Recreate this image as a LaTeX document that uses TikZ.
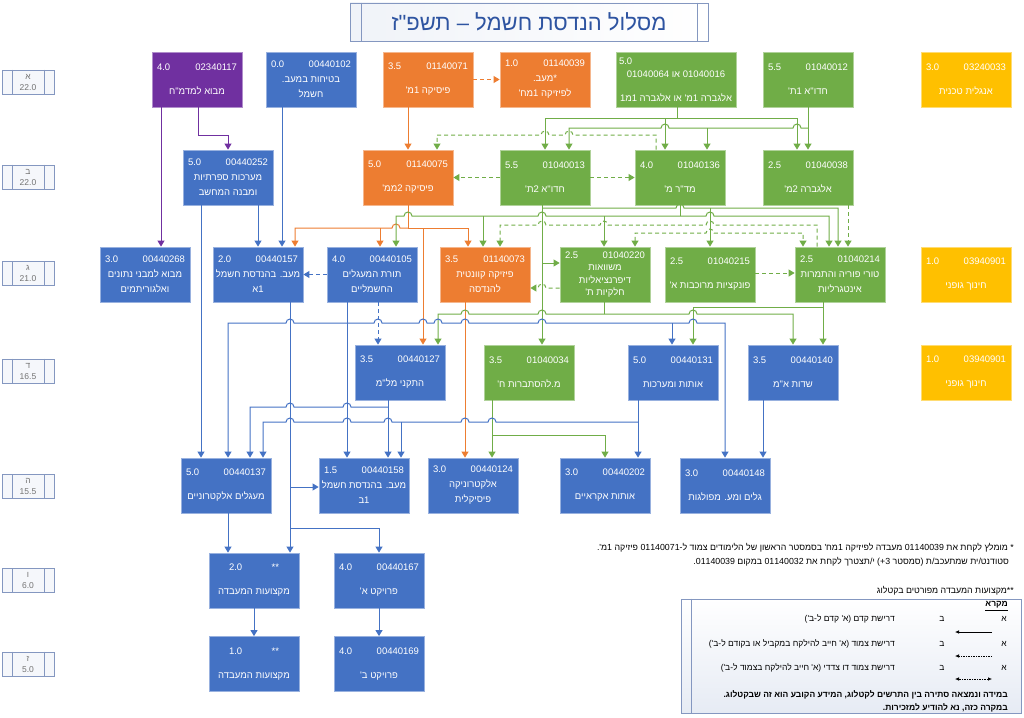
\documentclass[tikz,border=0pt]{standalone}
\usepackage{fontspec}
\setmainfont{Liberation Sans}
\newfontfamily\hebfont[Script=Hebrew]{Liberation Sans}
\usetikzlibrary{arrows.meta}
\TeXXeTstate=1
\definecolor{cblue}{HTML}{4472C4}
\definecolor{corange}{HTML}{ED7D31}
\definecolor{cgreen}{HTML}{70AD47}
\definecolor{cpurple}{HTML}{7030A0}
\definecolor{cyellow}{HTML}{FFC000}
\definecolor{ctitle}{HTML}{2E54A1}
\definecolor{cframe}{HTML}{8497C0}
\definecolor{cpale}{HTML}{E6EBF4}
\newcommand\heb[1]{{\hebfont\beginR #1\endR}}
\newcommand\ctop[2]{\makebox[80pt]{#1\hfill#2}}
\def\crsfont{\fontsize{9.5}{15}\selectfont}
\def\lgfont{\fontsize{8.5}{10}\selectfont}
% line jumps: hop over a vertical line at x=#1, y=#2
\def\hr#1#2{-- (#1-4,#2) arc[start angle=180,end angle=360,radius=4]}
\def\hl#1#2{-- (#1+4,#2) arc[start angle=0,end angle=-180,radius=4]}
\tikzset{
  crs/.style={rectangle, fill=#1, draw=#1!55!white, line width=0.8pt,
    minimum width=90pt, minimum height=55pt, inner sep=0pt,
    align=center, text=white, font=\crsfont},
  sem/.style={rectangle, draw=cframe, fill=cpale!40!white, line width=0.8pt,
    minimum width=52pt, minimum height=24pt, inner sep=0pt, align=center,
    text=black!55, font=\fontsize{8.5}{11}\selectfont},
  semln/.style={draw=cframe, line width=0.8pt},
  tip/.style={-{Triangle[length=6pt,width=7pt]}},
  ln/.style={line width=1pt, tip},
  bl/.style={ln, draw=cblue},
  ol/.style={ln, draw=corange},
  gl/.style={ln, draw=cgreen},
  pl/.style={ln, draw=cpurple},
  dsh/.style={dash pattern=on 4pt off 3pt},
  both/.style={{Triangle[length=6pt,width=7pt]}-{Triangle[length=6pt,width=7pt]}},
  lgt/.style={inner sep=0pt, font=\lgfont},
  lgarr/.style={line width=0.6pt, -{Latex[length=4pt,width=3.5pt]}},
}
\begin{document}
\begin{tikzpicture}[x=1pt,y=-1pt]
\useasboundingbox (0,0) rectangle (1024,717);

% title
\node[rectangle, draw=cframe, line width=0.8pt, left color=cpale!60!white, right color=white,
  minimum width=358pt, minimum height=38pt, text=ctitle,
  font=\fontsize{22}{26}\selectfont] (ttl) at (529,22) {\heb{מסלול הנדסת חשמל – תשפ"ז}};
\draw[semln] ([xshift=12pt]ttl.north west) -- ([xshift=12pt]ttl.south west);
\draw[semln] ([xshift=-11pt]ttl.north east) -- ([xshift=-11pt]ttl.south east);

% semesters
\foreach \sn/\sy/\sh/\sc in {1/82/א/22.0, 2/177/ב/22.0, 3/273.5/ג/21.0, 4/371/ד/16.5,
    5/486.5/ה/15.5, 6/580.5/ו/6.0, 7/664/ז/5.0}{
  \node[sem] (s\sn) at (28,\sy) {\heb{\sh}\\\sc};
  \draw[semln] ([xshift=11pt]s\sn.north west) -- ([xshift=11pt]s\sn.south west);
  \draw[semln] ([xshift=-10pt]s\sn.north east) -- ([xshift=-10pt]s\sn.south east);
}

% semester a
\node[crs=cpurple] (c02340117) at (197,79.5) {\ctop{4.0}{02340117}\\[9pt]\heb{מבוא למדמ"ח}};
\node[crs=cblue] (c00440102) at (311,79.5) {\ctop{0.0}{00440102}\\\heb{בטיחות במעב.}\\\heb{חשמל}};
\node[crs=corange] (c01140071) at (428,79.5) {\ctop{3.5}{01140071}\\[9pt]\heb{פיסיקה 1מ'}};
\node[crs=corange] (c01140039) at (545,79.5) {\ctop{1.0}{01140039}\\\heb{*מעב.}\\\heb{לפיזיקה 1מח'}};
\node[crs=cgreen, minimum width=120pt] (c01040016) at (676,79.5)
  {\makebox[114pt][l]{5.0}\\[-2pt]\heb{01040016 או 01040064}\\[9pt]\heb{אלגברה 1מ' או אלגברה 1מ1}};
\node[crs=cgreen] (c01040012) at (808,79.5) {\ctop{5.5}{01040012}\\[9pt]\heb{חדו"א 1ת'}};
\node[crs=cyellow] (c03240033) at (966,79.5) {\ctop{3.0}{03240033}\\[9pt]\heb{אנגלית טכנית}};

% semester b
\node[crs=cblue] (c00440252) at (228,177.5) {\ctop{5.0}{00440252}\\\heb{מערכות ספרתיות}\\\heb{ומבנה המחשב}};
\node[crs=corange] (c01140075) at (408,177.5) {\ctop{5.0}{01140075}\\[9pt]\heb{פיסיקה 2ממ'}};
\node[crs=cgreen] (c01040013) at (545,177.5) {\ctop{5.5}{01040013}\\[9pt]\heb{חדו"א 2ת'}};
\node[crs=cgreen] (c01040136) at (680,177.5) {\ctop{4.0}{01040136}\\[9pt]\heb{מד"ר מ'}};
\node[crs=cgreen] (c01040038) at (808,177.5) {\ctop{2.5}{01040038}\\[9pt]\heb{אלגברה 2מ'}};

% semester c
\node[crs=cblue] (c00440268) at (145,274.5) {\ctop{3.0}{00440268}\\\heb{מבוא למבני נתונים}\\\heb{ואלגוריתמים}};
\node[crs=cblue] (c00440157) at (258,274.5) {\ctop{2.0}{00440157}\\\heb{מעב. בהנדסת חשמל}\\\heb{1א}};
\node[crs=cblue] (c00440105) at (372,274.5) {\ctop{4.0}{00440105}\\\heb{תורת המעגלים}\\\heb{החשמליים}};
\node[crs=corange] (c01140073) at (485,274.5) {\ctop{3.5}{01140073}\\\heb{פיזיקה קוונטית}\\\heb{להנדסה}};
\node[crs=cgreen, font=\fontsize{9.5}{12.5}\selectfont] (c01040220) at (605,274.5)
  {\ctop{2.5}{01040220}\\\heb{משוואות}\\\heb{דיפרנציאליות}\\\heb{חלקיות ת'}};
\node[crs=cgreen] (c01040215) at (710,274.5) {\ctop{2.5}{01040215}\\[9pt]\heb{פונקציות מרוכבות א'}};
\node[crs=cgreen] (c01040214) at (840,274.5) {\ctop{2.5}{01040214}\\\heb{טורי פוריה והתמרות}\\\heb{אינטגרליות}};
\node[crs=cyellow] (c03940901a) at (966,274.5) {\ctop{1.0}{03940901}\\[9pt]\heb{חינוך גופני}};

% semester d
\node[crs=cblue] (c00440127) at (400,372.5) {\ctop{3.5}{00440127}\\[9pt]\heb{התקני מל"מ}};
\node[crs=cgreen] (c01040034) at (529,372.5) {\ctop{3.5}{01040034}\\[9pt]\heb{מ.להסתברות ח'}};
\node[crs=cblue] (c00440131) at (673,372.5) {\ctop{5.0}{00440131}\\[9pt]\heb{אותות ומערכות}};
\node[crs=cblue] (c00440140) at (793,372.5) {\ctop{3.5}{00440140}\\[9pt]\heb{שדות א"מ}};
\node[crs=cyellow] (c03940901b) at (966,372.5) {\ctop{1.0}{03940901}\\[9pt]\heb{חינוך גופני}};

% semester e
\node[crs=cblue] (c00440137) at (226,485.5) {\ctop{5.0}{00440137}\\[9pt]\heb{מעגלים אלקטרוניים}};
\node[crs=cblue] (c00440158) at (364,485.5) {\ctop{1.5}{00440158}\\\heb{מעב. בהנדסת חשמל}\\\heb{1ב}};
\node[crs=cblue] (c00440124) at (473,485.5) {\ctop{3.0}{00440124}\\\heb{אלקטרוניקה}\\\heb{פיסיקלית}};
\node[crs=cblue] (c00440202) at (605,485.5) {\ctop{3.0}{00440202}\\[9pt]\heb{אותות אקראיים}};
\node[crs=cblue] (c00440148) at (725,485.5) {\ctop{3.0}{00440148}\\[9pt]\heb{גלים ומע. מפולגות}};

% semesters f, g
\node[crs=cblue] (lab6) at (254,580.5) {\makebox[50pt]{2.0\hfill**}\\[9pt]\heb{מקצועות המעבדה}};
\node[crs=cblue] (c00440167) at (379,580.5) {\ctop{4.0}{00440167}\\[9pt]\heb{פרויקט א'}};
\node[crs=cblue] (lab7) at (254,664) {\makebox[50pt]{1.0\hfill**}\\[9pt]\heb{מקצועות המעבדה}};
\node[crs=cblue] (c00440169) at (379,664) {\ctop{4.0}{00440169}\\[9pt]\heb{פרויקט ב'}};

% purple
\draw[pl] (c02340117.south -| 161,0) -- (c00440268.north -| 161,0);
\draw[pl] (c02340117.south -| 198,0) |- (228,135) -- (c00440252.north);

% blue, upper part
\draw[bl] (c00440102.south -| 282,0) -- (c00440157.north -| 282,0);
\draw[bl] (c00440252.south -| c00440157.north) -- (c00440157.north);
\draw[bl] (c00440252.south -| 201,0) -- (c00440137.north -| 201,0);
\draw[bl,dsh] (c00440105.west) -- (c00440157.east);

% orange
\draw[ol] (c01140071.south -| c01140075.north) -- (c01140075.north);
\draw[ol,dsh] (c01140071.east) -- (c01140039.west);
\coordinate (oj) at (408,228);
\draw[ol,-] (c01140075.south) -- (oj);
\draw[ol] (oj) \hl{396}{228} -- (295,228) -- (c00440157.north -| 295,0);
\draw[ol] (380,228) -- (c00440105.north -| 380,0);
\draw[ol] (oj) -- (468,228) -- (c01140073.north -| 468,0);
\draw[ol] (423,228) -- (c00440127.north -| 423,0);
\draw[ol] (c01140073.south -| 465,0) -- (c00440124.north -| 465,0);

% green, semester a to b
\coordinate (ga) at (677,118);
\draw[gl,-] (c01040016.south -| ga) -- (ga);
\draw[gl] (ga) -| (c01040013.north);
\draw[gl] (ga) -| (c01040038.north -| 797,0);
\draw[gl] (665,118) -- (c01040136.north -| 665,0);
\coordinate (gb) at (808,128);
\draw[gl] (c01040012.south) -- (c01040038.north);
\draw[gl] (gb) \hl{797}{128} \hl{665}{128} -- (569,128) -- (c01040013.north -| 569,0);
\draw[gl] (707,128) -- (c01040136.north -| 707,0);
\draw[gl,dsh] (c01040136.north -| 656,0) -- (656,135) \hl{569}{135} \hl{545}{135} -- (437,135) -- (c01140075.north -| 437,0);
\draw[gl,dsh] (c01040013.west) -- (c01140075.east);
\draw[gl,dsh] (c01040013.east) -- (c01040136.west);

% green, semester b to c
\draw[gl] (c01040013.south -| 542,0) -- (c01040034.north -| 542,0);
\draw[gl] (542,263) -- (c01040220.west |- 0,263);
\draw[gl] (542,208) \hr{680}{208} -- (838,208) -- (c01040214.north -| 838,0);
\draw[gl] (710,208) -- (c01040215.north);
\coordinate (gc) at (680,216);
\draw[gl,-] (c01040136.south) -- (gc);
\draw[gl] (gc) \hl{542}{216} \hl{408}{216} -- (396,216) -- (c00440105.north -| 396,0);
\draw[gl] (483,216) -- (c01140073.north -| 483,0);
\draw[gl] (604,216) -- (c01040220.north -| 604,0);
\draw[gl] (gc) \hr{710}{216} -- (829,216) -- (c01040214.north -| 829,0);
\draw[gl,dsh] (c01040214.north -| 817,0) -- (817,225) \hl{710}{225} \hl{604}{225} \hl{542}{225} -- (500,225) -- (c01140073.north -| 500,0);
\draw[gl,dsh,both] (c01040220.north -| 635,0) -- (635,233) \hr{710}{233} -- (803,233) -- (c01040214.north -| 803,0);
\draw[gl,dsh] (c01040038.south -| 848,0) -- (c01040214.north -| 848,0);
\draw[gl,dsh] (c01040220.west |- 0,288) \hl{542}{288} -- (c01140073.east |- 0,288);
\draw[gl,dsh] (c01040215.east |- 0,273) -- (c01040214.west |- 0,273);

% green, semester c to e
\draw[gl,-] (c01040220.south -| 604,0) -- (604,314);
\draw[gl] (604,314) \hl{542}{314} \hl{465}{314} -- (438,314) -- (c00440127.north -| 438,0);
\draw[gl] (604,314) \hr{693}{314} -- (793,314) -- (c00440140.north -| 793,0);
\draw[gl] (c01040214.south -| 823,0) -- (c00440140.north -| 823,0);
\draw[gl] (823,307) -| (c00440131.north -| 693,0);
\draw[gl] (c01040034.south -| 492,0) -- (c00440124.north -| 492,0);
\draw[gl] (492,435) -| (c00440202.north);

% blue, lower part
\draw[bl] (c00440105.south -| 347,0) -- (c00440158.north -| 347,0);
\draw[bl] (347,323) \hl{290}{323} -- (228,323) -- (c00440137.north -| 228,0);
\draw[bl] (347,323) \hr{378}{323} \hr{423}{323} \hr{438}{323} \hr{465}{323} \hr{542}{323} \hr{693}{323} -- (725,323) -- (c00440148.north);
\draw[bl] (672,323) -- (c00440131.north -| 672,0);
\draw[bl,dsh] (c00440105.south -| 378,0) -- (c00440127.north -| 378,0);
\draw[bl] (c00440157.south -| 290,0) -- (lab6.north -| 290,0);
\draw[bl] (290,487) -- (c00440158.west |- 0,487);
\draw[bl] (290,528) -| (c00440167.north);
\draw[bl] (c00440127.south -| 388,0) -- (c00440158.north -| 388,0);
\draw[bl] (388,407) \hl{347}{407} \hl{290}{407} -- (250,407) -- (c00440137.north -| 250,0);
\draw[bl] (c00440131.south -| 638,0) -- (c00440202.north -| 638,0);
\draw[bl] (638,422) \hl{492}{422} \hl{465}{422} \hl{388}{422} \hl{347}{422} \hl{290}{422} -- (263,422) -- (c00440137.north -| 263,0);
\draw[bl] (401,422) -- (c00440158.north -| 401,0);
\draw[bl] (c00440140.south -| 763,0) -- (c00440148.north -| 763,0);
\draw[bl] (c00440137.south -| 228,0) -- (lab6.north -| 228,0);
\draw[bl] (lab6) -- (lab7);
\draw[bl] (c00440167) -- (c00440169);

% notes
\node[lgt, anchor=east, font=\fontsize{8.8}{10}\selectfont] (fn1) at (1014,548)
  {\heb{* מומלץ לקחת את 01140039 מעבדה לפיזיקה 1מח' בסמסטר הראשון של הלימודים צמוד ל-01140071 פיזיקה 1מ'.}};
\node[lgt, anchor=east, font=\fontsize{8.8}{10}\selectfont] (fn2) at (1009,562)
  {\heb{סטודנט/ית שמתעכב/ת (סמסטר 3+) י/תצטרך לקחת את 01140032 במקום 01140039.}};
\node[lgt, anchor=east, font=\fontsize{8.8}{10}\selectfont] (fn3) at (1014,591)
  {\heb{**מקצועות המעבדה מפורטים בקטלוג}};

% legend
\node[rectangle, draw=cframe, line width=0.8pt, top color=white, bottom color=cpale,
  minimum width=340pt, minimum height=114pt] (lgd) at (851,656) {};
\draw[semln] ([xshift=11pt]lgd.north west) -- ([xshift=11pt]lgd.south west);
\node[lgt, anchor=east, font=\lgfont\bfseries] (lgh) at (1008,606) {\underline{\heb{מקרא}}};
\node[lgt] (la1) at (1004,619) {\heb{א}};
\node[lgt] (lb1) at (942,619) {\heb{ב}};
\node[lgt, anchor=east] (lt1) at (895,619) {\heb{דרישת קדם (א' קדם ל-ב')}};
\node[lgt] (la2) at (1004,644) {\heb{א}};
\node[lgt] (lb2) at (942,644) {\heb{ב}};
\node[lgt, anchor=east] (lt2) at (895,644) {\heb{דרישת צמוד (א' חייב להילקח במקביל או בקודם ל-ב')}};
\node[lgt] (la3) at (1004,668) {\heb{א}};
\node[lgt] (lb3) at (942,668) {\heb{ב}};
\node[lgt, anchor=east] (lt3) at (895,668) {\heb{דרישת צמוד דו צדדי (א' חייב להילקח בצמוד ל-ב')}};
\coordinate (lr1) at (992,632); \coordinate (ll1) at (955,632);
\coordinate (lr2) at (992,656); \coordinate (ll2) at (955,656);
\coordinate (lr3) at (992,679); \coordinate (ll3) at (955,679);
\draw[lgarr] (lr1) -- (ll1);
\draw[lgarr, dash pattern=on 1.5pt off 1pt] (lr2) -- (ll2);
\draw[lgarr, {Latex[length=4pt,width=3.5pt]}-{Latex[length=4pt,width=3.5pt]}, dash pattern=on 1.5pt off 1pt] (lr3) -- (ll3);
\node[lgt, anchor=east, font=\lgfont\bfseries] (ln1) at (1008,695)
  {\heb{במידה ונמצאה סתירה בין התרשים לקטלוג, המידע הקובע הוא זה שבקטלוג.}};
\node[lgt, anchor=east, font=\lgfont\bfseries] (ln2) at (1008,708)
  {\heb{במקרה כזה, נא להודיע למזכירות.}};
\end{tikzpicture}
\end{document}
